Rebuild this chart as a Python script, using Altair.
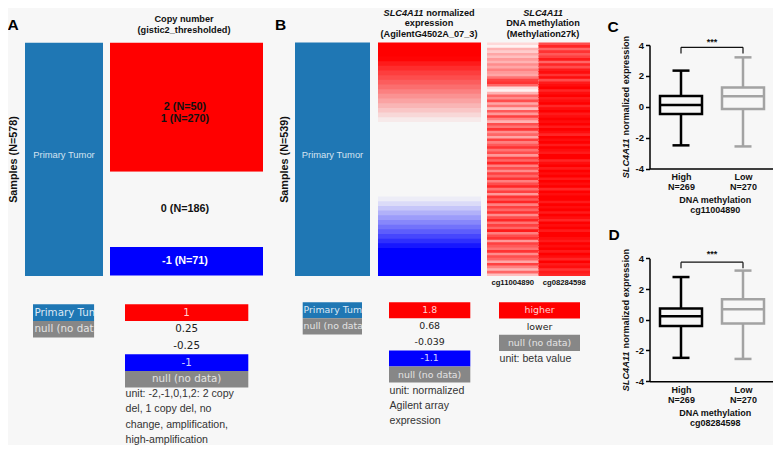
import altair as alt
import pandas as pd

OFF = 8
W, H = 765, 437
BG = "#f7f7f7"
RED, BLUE, GRAY, TUMOR = "#ff0000", "#0000ff", "#878787", "#1f77b4"
ARIAL = "Liberation Sans"
VERD = "DejaVu Sans"

# ---------------- data ----------------
cnv_values = [2, 1, 0, -1]
cnv_counts = [50, 270, 186, 71]
n_samples_A = 578
n_samples_B = 539

# sorted SLC4A11 expression (top -> bottom), binned
expr_sorted = [2.6, 2.2, 1.9,
               1.78, 1.68, 1.60, 1.52, 1.45, 1.38, 1.30, 1.22, 1.14, 1.06, 0.98, 0.90, 0.82, 0.74,
               0.66, 0.60, 0.55, 0.50, 0.45, 0.40, 0.35, 0.30, 0.25, 0.20, 0.16, 0.12, 0.08, 0.04, 0.00, -0.03,
               -0.08, -0.16, -0.25, -0.34, -0.43, -0.52, -0.61, -0.70, -0.80, -0.90, -1.00,
               -1.12, -1.20, -1.30, -1.45, -1.60, -2.00]

meth_probes = ["cg11004890", "cg08284598"]
meth_cg11004890 = [0.15, 0.05, 0.3, 0.2, 0.35, 0.25, 0.4, 0.3, 0.45, 0.35,
                   0.5, 0.4, 0.35, 0.55, 0.75, 0.8, 0.6, 0.15, 0.05, 0.3,
                   0.6, 0.45, 0.7, 0.35, 0.55, 0.25, 0.65, 0.4, 0.75, 0.5,
                   0.3, 0.7, 0.55, 0.8, 0.45, 0.6, 0.35, 0.75, 0.5, 0.65,
                   0.8, 0.55, 0.7, 0.4, 0.75, 0.6, 0.85, 0.5, 0.7, 0.45,
                   0.75, 0.6, 0.8, 0.5, 0.7, 0.85, 0.55, 0.75, 0.4, 0.8,
                   0.65, 0.85, 0.5, 0.75, 0.6, 0.8, 0.45, 0.7, 0.85, 0.55,
                   0.75, 0.6, 0.9, 0.5, 0.7, 0.8, 0.4, 0.75, 0.65, 0.55,
                   0.8, 0.45, 0.7, 0.6, 0.35, 0.75, 0.5, 0.3, 0.6, 0.25]
meth_cg08284598 = [0.7, 0.85, 0.6, 0.8, 0.65, 0.75, 0.9, 0.6, 0.85, 0.7,
                   0.9, 0.95, 0.8, 0.95, 0.7, 0.9, 0.95, 1.0, 0.85, 0.95,
                   1.0, 0.9, 0.95, 1.0, 0.85, 0.95, 1.0, 0.9, 0.95, 1.0,
                   0.95, 1.0, 0.9, 1.0, 0.95, 0.85, 1.0, 0.95, 1.0, 0.9,
                   1.0, 0.95, 0.9, 1.0, 1.0, 0.85, 0.95, 1.0, 0.9, 1.0,
                   0.95, 1.0, 0.9, 1.0, 0.95, 1.0, 0.85, 1.0, 0.95, 1.0,
                   1.0, 0.9, 1.0, 0.95, 1.0, 0.9, 1.0, 0.95, 0.85, 1.0,
                   0.95, 1.0, 0.9, 1.0, 1.0, 0.95, 0.9, 1.0, 0.95, 1.0,
                   0.9, 1.0, 0.95, 0.85, 1.0, 0.9, 0.95, 0.8, 0.9, 0.85]

box_groups = ["High", "Low"]
box_n = [269, 270]
box_colors = ["#000000", "#a3a3a3"]
C_lower, C_q1, C_median, C_q3, C_upper = [-2.50, -2.57], [-0.47, -0.14], [0.12, 0.68], [0.70, 1.25], [2.34, 3.20]
D_lower, D_q1, D_median, D_q3, D_upper = [-2.48, -2.55], [-0.41, -0.24], [0.22, 0.68], [0.74, 1.33], [2.78, 3.20]

A_leg_tumor = ["Primary Tumor", "null (no data)"]
A_leg_cnv = ["1", "0.25", "-0.25", "-1", "null (no data)"]
A_unit = ["unit: -2,-1,0,1,2: 2 copy", "del, 1 copy del, no", "change, amplification,", "high-amplification"]
B_leg_expr = ["1.8", "0.68", "-0.039", "-1.1", "null (no data)"]
B_unit_expr = ["unit: normalized", "Agilent array", "expression"]
B_leg_meth = ["higher", "lower", "null (no data)"]
B_unit_meth = ["unit: beta value"]


# ---------------- helpers ----------------
def R(a, b):
    return [a - OFF, b - OFF]


def lin(domain, rng):
    return alt.Scale(domain=domain, range=R(*rng), nice=False, zero=False)


IX = alt.Scale(domain=[0, 781], range=[-OFF, 781 - OFF], nice=False, zero=False)
IY = alt.Scale(domain=[0, 453], range=[-OFF, 453 - OFF], nice=False, zero=False)


def itext(rows, **mk):
    df = pd.DataFrame(rows, columns=["px", "py", "text", "color"])
    return alt.Chart(df).mark_text(**mk).encode(
        x=alt.X("px:Q", scale=IX, axis=None),
        y=alt.Y("py:Q", scale=IY, axis=None),
        text="text:N",
        color=alt.Color("color:N", scale=None))


def ibox(rows):
    df = pd.DataFrame(rows, columns=["x0", "x1", "y0", "y1", "fill"])
    return alt.Chart(df).mark_rect().encode(
        x=alt.X("x0:Q", scale=IX, axis=None), x2="x1:Q",
        y=alt.Y("y0:Q", scale=IY, axis=None), y2="y1:Q",
        color=alt.Color("fill:N", scale=None))


layers = []

# ---------------- Panel A heatmap ----------------
ya = lin([0, n_samples_A], (42.7, 276))
dfA_t = pd.DataFrame({"s0": [0], "s1": [n_samples_A]})
layers.append(alt.Chart(dfA_t).mark_rect(color=TUMOR).encode(
    x=alt.value(25 - OFF), x2=alt.value(103 - OFF),
    y=alt.Y("s0:Q", scale=ya, axis=None), y2="s1:Q"))

seg = pd.DataFrame({"value": cnv_values, "count": cnv_counts})
seg["s1"] = seg["count"].cumsum()
seg["s0"] = seg["s1"] - seg["count"]
cnv_scale = alt.Scale(domain=[-1, -0.25, 0.25, 1], range=[BLUE, BG, BG, RED], clamp=True, interpolate="rgb")
layers.append(alt.Chart(seg).mark_rect().encode(
    x=alt.value(110 - OFF), x2=alt.value(263 - OFF),
    y=alt.Y("s0:Q", scale=ya, axis=None), y2="s1:Q",
    color=alt.Color("value:Q", scale=cnv_scale, legend=None)))

groups = {}
for v, c, s0, s1 in zip(seg["value"], seg["count"], seg["s0"], seg["s1"]):
    g = max(-1, min(1, v))
    if g not in groups:
        groups[g] = [s0, s1, []]
    groups[g][1] = s1
    groups[g][2].append(f"{v} (N={c})")
lab = pd.DataFrame([{"mid": (a + b) / 2, "text": "\n".join(t),
                     "color": "#ffffff" if g < 0 else "#111111"} for g, (a, b, t) in groups.items()])
layers.append(alt.Chart(lab).mark_text(font=ARIAL, fontWeight="bold", fontSize=10.8, lineBreak="\n",
                                       lineHeight=11.7, baseline="middle").encode(
    x=alt.value(185 - OFF), y=alt.Y("mid:Q", scale=ya, axis=None), text="text:N",
    color=alt.Color("color:N", scale=None)))

# ---------------- Panel B heatmap ----------------
yb = lin([0, n_samples_B], (42.5, 276))
dfB_t = pd.DataFrame({"s0": [0], "s1": [n_samples_B]})
layers.append(alt.Chart(dfB_t).mark_rect(color=TUMOR).encode(
    x=alt.value(295 - OFF), x2=alt.value(370 - OFF),
    y=alt.Y("s0:Q", scale=yb, axis=None), y2="s1:Q"))

nE = len(expr_sorted)
expr = pd.DataFrame({"i": list(range(nE)), "v": expr_sorted})
expr["i1"] = (expr["i"] + 1.4).clip(upper=nE)   # slight overlap hides anti-aliasing seams
expr_scale = alt.Scale(domain=[-1.1, -0.039, 0.68, 1.8], range=[BLUE, BG, BG, RED], clamp=True, interpolate="rgb")
ye = lin([0, nE], (42.5, 276))
layers.append(alt.Chart(expr).mark_rect().encode(
    x=alt.value(378 - OFF), x2=alt.value(481 - OFF),
    y=alt.Y("i:Q", scale=ye, axis=None), y2="i1:Q",
    color=alt.Color("v:Q", scale=expr_scale, legend=None)))

nM = len(meth_cg11004890)
meth = pd.concat([
    pd.DataFrame({"probe": meth_probes[0], "i": list(range(nM)), "v": meth_cg11004890}),
    pd.DataFrame({"probe": meth_probes[1], "i": list(range(nM)), "v": meth_cg08284598}),
])
meth["i1"] = (meth["i"] + 1.4).clip(upper=nM)
mx = alt.Scale(domain=meth_probes, range=R(487, 590), paddingInner=0, paddingOuter=0)
ym = lin([0, nM], (42.5, 276))
meth_scale = alt.Scale(domain=[0, 1], range=["#ffffff", RED], interpolate="rgb")
layers.append(alt.Chart(meth).mark_rect().encode(
    x=alt.X("probe:N", scale=mx, axis=None),
    y=alt.Y("i:Q", scale=ym, axis=None), y2="i1:Q",
    color=alt.Color("v:Q", scale=meth_scale, legend=None)))
layers.append(alt.Chart(pd.DataFrame({"probe": meth_probes})).mark_text(
    font=ARIAL, fontWeight="bold", fontSize=7.7, baseline="middle").encode(
    x=alt.X("probe:N", scale=mx, axis=None), y=alt.value(282.5 - OFF), text="probe:N",
    color=alt.value("#111111")))

# ---------------- heatmap texts ----------------
TY = [13.2, 23.4, 33.6]
layers.append(itext([(13, 24.5, "A", "#000"), (280.5, 24.5, "B", "#000"),
                     (613, 26.5, "C", "#000"), (614, 234.5, "D", "#000")],
                    font=ARIAL, fontWeight="bold", fontSize=15.5, baseline="middle"))
layers.append(itext([(184, TY[0] + 6, "Copy number", "#111"), (184, TY[0] + 17, "(gistic2_thresholded)", "#111"),
                     (429, TY[1], "expression", "#111"), (429, TY[2], "(AgilentG4502A_07_3)", "#111"),
                     (543, TY[1], "DNA methylation", "#111"), (543, TY[2], "(Methylation27k)", "#111")],
                    font=ARIAL, fontWeight="bold", fontSize=9.2, baseline="middle"))
FS_T = 9.2
w_gene_t = 4.39 * FS_T
w_norm_t = 5.279 * FS_T
start_t = 429 - (w_gene_t + 0.278 * FS_T + w_norm_t) / 2
layers.append(itext([(543, TY[0], "SLC4A11", "#111"), (start_t + w_gene_t / 2, TY[0], "SLC4A11", "#111")],
                    font=ARIAL, fontWeight="bold", fontStyle="italic", fontSize=FS_T, baseline="middle"))
layers.append(itext([(start_t + w_gene_t + 0.278 * FS_T, TY[0], "normalized", "#111")],
                    font=ARIAL, fontWeight="bold", fontSize=FS_T, baseline="middle", align="left"))
layers.append(itext([(14.3, 159.5, f"Samples (N={n_samples_A})", "#111"),
                     (284.5, 159.5, f"Samples (N={n_samples_B})", "#111")],
                    font=ARIAL, fontWeight="bold", fontSize=10.8, baseline="middle", angle=270))
layers.append(itext([(64, 155, "Primary Tumor", "#d4e3f1"), (332.5, 155, "Primary Tumor", "#d4e3f1")],
                    font=ARIAL, fontSize=9.4, baseline="middle"))

# ---------------- legends ----------------
LIGHT = {RED: "#ffd2d2", BLUE: "#d2d2ff", GRAY: "#e4e4e4", TUMOR: "#dce8f4", BG: "#222222"}


def legend(labels, fills, x0, x1, y0, rowh):
    boxes, txt = [], []
    for k, (lbl, f) in enumerate(zip(labels, fills)):
        if f != BG:
            boxes.append((x0, x1, y0 + k * rowh, y0 + (k + 1) * rowh, f))
        txt.append(((x0 + x1) / 2, y0 + (k + 0.5) * rowh, lbl, LIGHT[f]))
    return boxes, txt


bA, tA = legend(A_leg_cnv, [RED, BG, BG, BLUE, GRAY], 125, 248.3, 304.3, 16.65)
bE, tE = legend(B_leg_expr, [RED, BG, BG, BLUE, GRAY], 389, 470.3, 302.3, 16.05)
bM, tM = legend(B_leg_meth, [RED, BG, GRAY], 499, 580, 302.3, 16.2)
bTA, _ = legend(A_leg_tumor, [TUMOR, GRAY], 33, 94.3, 304.3, 16.65)
bTB, _ = legend(A_leg_tumor, [TUMOR, GRAY], 302.7, 362, 302.3, 16.05)
layers.append(ibox(bA + bE + bM + bTA + bTB))
layers.append(itext(tA, font=VERD, fontSize=10.3, baseline="middle"))
layers.append(itext(tE + tM, font=VERD, fontSize=9.4, baseline="middle"))
layers.append(itext([(34.5, 304.3 + 16.65 * (k + 0.5), l, LIGHT[f]) for k, (l, f) in enumerate(zip(A_leg_tumor, [TUMOR, GRAY]))],
                    font=VERD, fontSize=10.3, baseline="middle", align="left"))
layers.append(itext([(303.5, 302.3 + 16.05 * (k + 0.5), l, LIGHT[f]) for k, (l, f) in enumerate(zip(A_leg_tumor, [TUMOR, GRAY]))],
                    font=VERD, fontSize=9.4, baseline="middle", align="left"))
# clip the overflowing sample-type legend labels at their boxes' right edge
layers.append(ibox([(94.3, 112, 300, 342, BG), (362, 380, 300, 338, BG)]))
layers.append(itext([(125.5, 394 + 15.3 * k, l, "#333") for k, l in enumerate(A_unit)],
                    font=ARIAL, fontSize=10.6, baseline="middle", align="left"))
layers.append(itext([(389.5, 390.7 + 15.3 * k, l, "#333") for k, l in enumerate(B_unit_expr)] +
                    [(499.5, 359, B_unit_meth[0], "#333")],
                    font=ARIAL, fontSize=10.6, baseline="middle", align="left"))

# ---------------- box plots C / D ----------------
X1_IMG, X2_IMG, AX_X_IMG, AX_END_IMG = 681, 743, 649.5, 780
STEP = X2_IMG - X1_IMG
XMIN = 1 - (X1_IMG - AX_X_IMG) / STEP
XMAX = 2 + (AX_END_IMG - X2_IMG) / STEP
BOX_HALF = 21 / STEP
CAP_HALF = 8.5 / STEP


def box_panel(lower, q1, med, q3, upper, y_top, y_bot, probe, brk, star, title_cy):
    xs = lin([XMIN, XMAX], (AX_X_IMG, AX_END_IMG))
    ys = lin([-4, 4], (y_bot, y_top))
    df = pd.DataFrame({"pos": [1, 2], "grp": box_groups, "n": box_n, "col": box_colors,
                       "lower": lower, "q1": q1, "median": med, "q3": q3, "upper": upper})
    df["bl"], df["br"] = df["pos"] - BOX_HALF, df["pos"] + BOX_HALF
    df["cl"], df["cr"] = df["pos"] - CAP_HALF, df["pos"] + CAP_HALF
    lab_expr = " : ".join(f"datum.value == {p} ? ['{g}', 'N={n}']" for p, g, n in zip([1, 2], box_groups, box_n)) + " : ''"
    xaxis = alt.Axis(orient="bottom", offset=-(H - (y_bot - OFF)), values=[1, 2], labelExpr=lab_expr,
                     ticks=False, grid=False, domainColor="#000", domainWidth=1.5,
                     labelFont=ARIAL, labelFontWeight="bold", labelFontSize=9, labelColor="#111",
                     labelLineHeight=10, labelPadding=4, labelBaseline="top",
                     title=["DNA methylation", probe], titleFont=ARIAL, titleFontWeight="bold",
                     titleFontSize=9, titleColor="#111", titleLineHeight=10, titlePadding=4)
    yaxis = alt.Axis(orient="left", offset=-(AX_X_IMG - OFF), values=[-4, -2, 0, 2, 4],
                     labelExpr="'' + datum.value", grid=False, tickSize=4, tickWidth=1.5, tickColor="#000",
                     domainColor="#000", domainWidth=1.5, labelFont=ARIAL, labelFontWeight="bold",
                     labelFontSize=9.5, labelColor="#111", labelPadding=2, title=None)
    out = []
    out.append(alt.Chart(df).mark_rule(strokeWidth=2.5).encode(
        x=alt.X("pos:Q", scale=xs, axis=xaxis),
        y=alt.Y("lower:Q", scale=ys, axis=yaxis), y2="upper:Q",
        color=alt.Color("col:N", scale=None)))
    for f in ["lower", "upper"]:
        out.append(alt.Chart(df).mark_rule(strokeWidth=2.5).encode(
            x=alt.X("cl:Q", scale=xs, axis=None), x2="cr:Q",
            y=alt.Y(f"{f}:Q", scale=ys, axis=None), color=alt.Color("col:N", scale=None)))
    out.append(alt.Chart(df).mark_rect(fill=BG, strokeWidth=2.5).encode(
        x=alt.X("bl:Q", scale=xs, axis=None), x2="br:Q",
        y=alt.Y("q1:Q", scale=ys, axis=None), y2="q3:Q",
        stroke=alt.Stroke("col:N", scale=None)))
    out.append(alt.Chart(df).mark_rule(strokeWidth=2.5).encode(
        x=alt.X("bl:Q", scale=xs, axis=None), x2="br:Q",
        y=alt.Y("median:Q", scale=ys, axis=None), color=alt.Color("col:N", scale=None)))
    br = pd.DataFrame({"x0": [1, 1, 2], "x1": [2, 1, 2], "y0": [brk, brk, brk], "y1": [brk, brk - 0.4, brk - 0.4]})
    out.append(alt.Chart(br).mark_rule(strokeWidth=1.2, color="#111").encode(
        x=alt.X("x0:Q", scale=xs, axis=None), x2="x1:Q",
        y=alt.Y("y0:Q", scale=ys, axis=None), y2="y1:Q"))
    out.append(alt.Chart(pd.DataFrame({"x": [1.5], "y": [star], "t": ["***"]})).mark_text(
        font=ARIAL, fontWeight="bold", fontSize=9, baseline="middle", color="#111").encode(
        x=alt.X("x:Q", scale=xs, axis=None), y=alt.Y("y:Q", scale=ys, axis=None), text="t:N"))
    # rotated y title (italic gene symbol + plain text)
    fs = 9.2
    w_gene, w_space = 4.39 * fs, 0.278 * fs
    total = w_gene + w_space + 10.837 * fs
    bottom = title_cy + total / 2
    out.append(itext([(626, bottom, "SLC4A11", "#111")], font=ARIAL, fontWeight="bold", fontStyle="italic",
                     fontSize=fs, baseline="middle", align="left", angle=270))
    out.append(itext([(626, bottom - w_gene - w_space, "normalized expression", "#111")], font=ARIAL,
                     fontWeight="bold", fontSize=fs, baseline="middle", align="left", angle=270))
    return out


layers += box_panel(C_lower, C_q1, C_median, C_q3, C_upper, 45, 168.5, "cg11004890", 3.85, 4.2, 107)
layers += box_panel(D_lower, D_q1, D_median, D_q3, D_upper, 258.3, 381.2, "cg08284598", 3.75, 4.25, 320)

chart = alt.layer(*layers).properties(
    width=W, height=H, background=BG, padding=0,
    autosize=alt.AutoSizeParams(type="none")
).resolve_scale(
    x="independent", y="independent", color="independent"
).configure_view(stroke="transparent")

chart.save("out.html", embed_options={"renderer": "svg", "actions": False})
